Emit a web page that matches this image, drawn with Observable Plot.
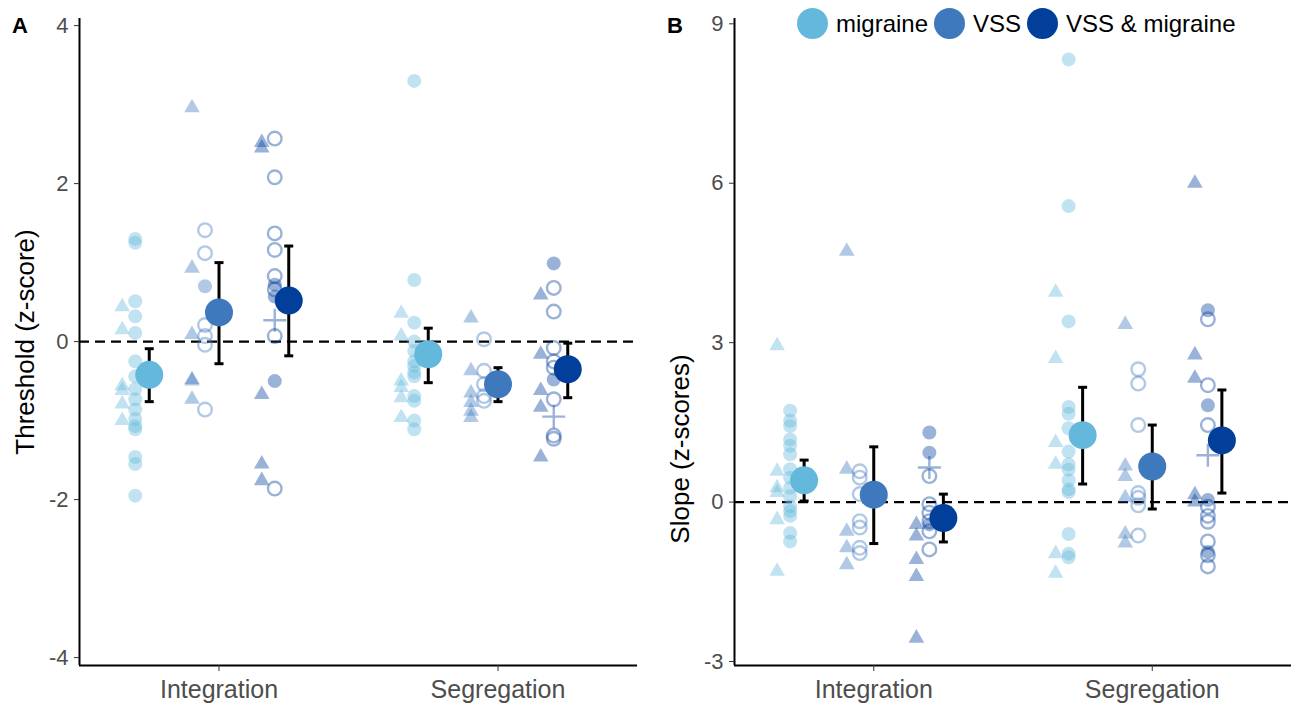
<!DOCTYPE html>
<html>
<head>
<meta charset="utf-8">
<script src="https://cdn.jsdelivr.net/npm/d3@7"></script>
<script src="https://cdn.jsdelivr.net/npm/@observablehq/plot@0.6"></script>
<style>
  body { margin: 0; background: #fff; }
  #fig { position: relative; width: 1291px; height: 705px; background: #fff;
         font-family: "Liberation Sans", Arial, sans-serif; overflow: hidden; }
  .panel { position: absolute; top: 0; }
  .tag { position: absolute; font-weight: bold; font-size: 22px; line-height: 22px; color: #000; }
  #legend { position: absolute; top: 8px; left: 797px; display: flex; align-items: center;
            font-size: 24px; line-height: 30px; color: #000; }
  #legend .sw { display: inline-block; width: 31px; height: 31px; border-radius: 50%; margin-right: 8px; }
  #legend .lab { margin-right: 6px; }
</style>
</head>
<body>
<div id="fig">
  <div class="panel" id="panelA" style="left:0px"></div>
  <div class="panel" id="panelB" style="left:645px"></div>
  <div class="tag" style="left:12px; top:15px">A</div>
  <div class="tag" style="left:667px; top:15px">B</div>
  <div id="legend"></div>
</div>
<script>
// Groups, conditions and colours
const groups = ["migraine", "VSS", "VSS & migraine"];
const conditions = ["Integration", "Segregation"];
const groupColors = ["#64b8dc", "#3f79bd", "#023f9a"];

// Group means with 95% interval, [condition][group]
const thresholdMean = [[-0.42, 0.37, 0.52], [-0.16, -0.54, -0.35]];
const thresholdLow  = [[-0.76, -0.28, -0.18], [-0.52, -0.76, -0.71]];
const thresholdHigh = [[-0.09, 1.00, 1.21], [0.17, -0.33, -0.02]];

const slopeMean = [[0.41, 0.14, -0.30], [1.26, 0.67, 1.16]];
const slopeLow  = [[0.02, -0.78, -0.75], [0.34, -0.13, 0.17]];
const slopeHigh = [[0.79, 1.04, 0.15], [2.16, 1.45, 2.11]];

// Individual participants: [marker, z-score]
// tri = triangle, dot = filled circle, ring = open circle, plus = cross
const thrIntMigraine = [
  ["tri", 0.44], ["tri", 0.15], ["tri", -0.56], ["tri", -0.62], ["tri", -0.79], ["tri", -1.0],
  ["dot", 1.30], ["dot", 1.25], ["dot", 0.51], ["dot", 0.32], ["dot", 0.11], ["dot", -0.25],
  ["dot", -0.44], ["dot", -0.60], ["dot", -0.73], ["dot", -0.86], ["dot", -0.98], ["dot", -1.07],
  ["dot", -1.11], ["dot", -1.46], ["dot", -1.55], ["dot", -1.95]
];
const thrIntVSS = [
  ["tri", 2.96], ["tri", 0.93], ["tri", 0.09], ["tri", -0.48], ["tri", -0.50], ["tri", -0.73],
  ["dot", 0.70],
  ["ring", 1.41], ["ring", 1.12], ["ring", 0.21], ["ring", 0.07], ["ring", -0.04], ["ring", -0.86]
];
const thrIntBoth = [
  ["tri", 2.52], ["tri", 2.45], ["tri", -0.67], ["tri", -1.55], ["tri", -1.76],
  ["dot", 0.72], ["dot", 0.57], ["dot", -0.50],
  ["ring", 2.57], ["ring", 2.08], ["ring", 1.37], ["ring", 1.16], ["ring", 0.83], ["ring", 0.66],
  ["ring", 0.07], ["ring", -1.86],
  ["plus", 0.27]
];
const thrSegMigraine = [
  ["tri", 0.36], ["tri", 0.07], ["tri", -0.50], ["tri", -0.58], ["tri", -0.71], ["tri", -0.96],
  ["dot", 3.30], ["dot", 0.78], ["dot", 0.24], ["dot", 0.0], ["dot", -0.12], ["dot", -0.25],
  ["dot", -0.31], ["dot", -0.39], ["dot", -0.44], ["dot", -0.69], ["dot", -0.75], ["dot", -1.0],
  ["dot", -1.11]
];
const thrSegVSS = [
  ["tri", 0.30], ["tri", -0.37], ["tri", -0.65], ["tri", -0.77], ["tri", -0.88], ["tri", -0.96],
  ["ring", 0.03], ["ring", -0.37], ["ring", -0.54], ["ring", -0.69], ["ring", -0.75]
];
const thrSegBoth = [
  ["tri", 0.59], ["tri", -0.16], ["tri", -0.62], ["tri", -0.83], ["tri", -1.46],
  ["dot", 0.99], ["dot", -0.48],
  ["ring", 0.68], ["ring", 0.38], ["ring", -0.08], ["ring", -0.25], ["ring", -0.33], ["ring", -0.73],
  ["ring", -1.19], ["ring", -1.23],
  ["plus", -0.95]
];

const slpIntMigraine = [
  ["tri", 2.94], ["tri", 0.58], ["tri", 0.27], ["tri", 0.18], ["tri", -0.33], ["tri", -1.30],
  ["dot", 1.72], ["dot", 1.53], ["dot", 1.43], ["dot", 1.18], ["dot", 1.06], ["dot", 0.90],
  ["dot", 0.62], ["dot", 0.46], ["dot", 0.27], ["dot", 0.11], ["dot", -0.08], ["dot", -0.17],
  ["dot", -0.26], ["dot", -0.58], ["dot", -0.74]
];
const slpIntVSS = [
  ["tri", 4.72], ["tri", 0.62], ["tri", -0.55], ["tri", -0.86], ["tri", -1.18],
  ["ring", 0.58], ["ring", 0.46], ["ring", 0.15], ["ring", -0.36], ["ring", -0.48], ["ring", -0.86],
  ["ring", -0.96]
];
const slpIntBoth = [
  ["tri", -0.42], ["tri", -0.64], ["tri", -1.08], ["tri", -1.40], ["tri", -2.56],
  ["dot", 1.31], ["dot", 0.93], ["dot", -0.42],
  ["ring", 0.49], ["ring", -0.04], ["ring", -0.20], ["ring", -0.36], ["ring", -0.55], ["ring", -0.89],
  ["plus", 0.65]
];
const slpSegMigraine = [
  ["tri", 3.95], ["tri", 2.70], ["tri", 1.12], ["tri", 0.71], ["tri", -0.97], ["tri", -1.34],
  ["dot", 8.33], ["dot", 5.57], ["dot", 3.40], ["dot", 1.79], ["dot", 1.66], ["dot", 1.39],
  ["dot", 0.95], ["dot", 0.71], ["dot", 0.61], ["dot", 0.41], ["dot", 0.24], ["dot", 0.19],
  ["dot", -0.60], ["dot", -0.97], ["dot", -1.04]
];
const slpSegVSS = [
  ["tri", 3.34], ["tri", 0.68], ["tri", 0.48], ["tri", 0.08], ["tri", -0.60], ["tri", -0.77],
  ["ring", 2.50], ["ring", 2.23], ["ring", 1.45], ["ring", 0.17], ["ring", 0.08], ["ring", -0.06],
  ["ring", -0.63]
];
const slpSegBoth = [
  ["tri", 6.0], ["tri", 2.77], ["tri", 2.33], ["tri", 0.14], ["tri", 0.0],
  ["dot", 3.61], ["dot", 1.82], ["dot", 0.04], ["dot", -0.94],
  ["ring", 3.44], ["ring", 2.20], ["ring", 1.45], ["ring", -0.09], ["ring", -0.26], ["ring", -0.37],
  ["ring", -0.74], ["ring", -1.0], ["ring", -1.21],
  ["plus", 0.88]
];

// Axis ticks and titles
const thresholdTicks = [-4, -2, 0, 2, 4];
const slopeTicks = [-3, 0, 3, 6, 9];
const thresholdTitle = "Threshold (z-score)";
const slopeTitle = "Slope (z-scores)";

// ---- helpers ----
// dodge groups around each condition position
const groupShift = {"migraine": -0.25, "VSS": 0, "VSS & migraine": 0.25};
const xPos = d => conditions.indexOf(d.cond) + 1 + groupShift[d.group];

function participants(cond, group, list) {
  return list.map(([marker, v]) => ({cond, group, marker, v}));
}
function summary(mean, low, high) {
  const out = [];
  conditions.forEach((cond, i) => groups.forEach((group, j) =>
    out.push({cond, group, mean: mean[i][j], low: low[i][j], high: high[i][j]})));
  return out;
}

// thin line symbols, half-length = r
const plusSymbol = {
  draw(ctx, size) {
    const r = Math.sqrt(size / Math.PI);
    ctx.moveTo(-r, 0); ctx.lineTo(r, 0);
    ctx.moveTo(0, -r); ctx.lineTo(0, r);
  }
};
const capSymbol = {
  draw(ctx, size) {
    const r = Math.sqrt(size / Math.PI);
    ctx.moveTo(-r, 0); ctx.lineTo(r, 0);
  }
};

function panel({points, stats, domain, ticks, title, titleShift, width, marginLeft, marginRight}) {
  const is = m => d => d.marker === m;
  return Plot.plot({
    width, height: 705,
    marginLeft, marginRight, marginTop: 18, marginBottom: 40,
    style: {fontFamily: '"Liberation Sans", Arial, sans-serif', background: "white", overflow: "visible"},
    x: {domain: [0.5, 2.5]},
    y: {domain},
    color: {domain: groups, range: groupColors},
    marks: [
      Plot.ruleY([0], {stroke: "#000", strokeWidth: 2.3, strokeDasharray: "10,6"}),
      Plot.dot(points.filter(is("tri")), {x: xPos, y: "v", dx: -27, symbol: "triangle", r: 5.8,
        fill: "group", fillOpacity: 0.4, stroke: "none"}),
      Plot.dot(points.filter(is("dot")), {x: xPos, y: "v", dx: -14, symbol: "circle", r: 7,
        fill: "group", fillOpacity: 0.4, stroke: "none"}),
      Plot.dot(points.filter(is("ring")), {x: xPos, y: "v", dx: -14, symbol: "circle", r: 6.8,
        fill: "none", stroke: "group", strokeOpacity: 0.4, strokeWidth: 2.4}),
      Plot.dot(points.filter(is("plus")), {x: xPos, y: "v", dx: -14, symbol: plusSymbol, r: 11.5,
        fill: "none", stroke: "group", strokeOpacity: 0.4, strokeWidth: 2.4}),
      Plot.ruleX(stats, {x: xPos, y1: "low", y2: "high", stroke: "#000", strokeWidth: 3}),
      Plot.dot(stats, {x: xPos, y: "low", symbol: capSymbol, r: 4.5, fill: "none", stroke: "#000", strokeWidth: 3}),
      Plot.dot(stats, {x: xPos, y: "high", symbol: capSymbol, r: 4.5, fill: "none", stroke: "#000", strokeWidth: 3}),
      Plot.dot(stats, {x: xPos, y: "mean", r: 14, fill: "group", stroke: "none"}),
      // axis lines
      Plot.ruleX([0.5], {stroke: "#000", strokeWidth: 2}),
      Plot.ruleY([domain[0]], {stroke: "#000", strokeWidth: 2}),
      Plot.axisY({ticks, tickFormat: d => String(d), tickSize: 5, tickPadding: 6, fontSize: 22,
        color: "#4d4d4d", stroke: "#333", label: null}),
      Plot.axisX({ticks: [1, 2], tickFormat: i => conditions[i - 1], tickSize: 6, tickPadding: 9,
        fontSize: 25, color: "#4d4d4d", stroke: "#333", label: null}),
      Plot.text([title], {frameAnchor: "left", dx: -54, dy: titleShift, rotate: -90, textAnchor: "middle",
        fontSize: 26, fill: "#000"})
    ]
  });
}

const thresholdPoints = [
  ...participants("Integration", "migraine", thrIntMigraine),
  ...participants("Integration", "VSS", thrIntVSS),
  ...participants("Integration", "VSS & migraine", thrIntBoth),
  ...participants("Segregation", "migraine", thrSegMigraine),
  ...participants("Segregation", "VSS", thrSegVSS),
  ...participants("Segregation", "VSS & migraine", thrSegBoth)
];
const slopePoints = [
  ...participants("Integration", "migraine", slpIntMigraine),
  ...participants("Integration", "VSS", slpIntVSS),
  ...participants("Integration", "VSS & migraine", slpIntBoth),
  ...participants("Segregation", "migraine", slpSegMigraine),
  ...participants("Segregation", "VSS", slpSegVSS),
  ...participants("Segregation", "VSS & migraine", slpSegBoth)
];

document.getElementById("panelA").append(panel({
  points: thresholdPoints, stats: summary(thresholdMean, thresholdLow, thresholdHigh),
  domain: [-4.1, 4.09], ticks: thresholdTicks, title: thresholdTitle, titleShift: 0,
  width: 645, marginLeft: 79, marginRight: 8
}));
document.getElementById("panelB").append(panel({
  points: slopePoints, stats: summary(slopeMean, slopeLow, slopeHigh),
  domain: [-3.075, 9.1], ticks: slopeTicks, title: slopeTitle, titleShift: 107,
  width: 646, marginLeft: 89, marginRight: 0
}));

// legend
const legend = document.getElementById("legend");
groups.forEach((g, i) => {
  const sw = document.createElement("span");
  sw.className = "sw";
  sw.style.background = groupColors[i];
  const lab = document.createElement("span");
  lab.className = "lab";
  lab.textContent = g;
  legend.append(sw, lab);
});
</script>
</body>
</html>
